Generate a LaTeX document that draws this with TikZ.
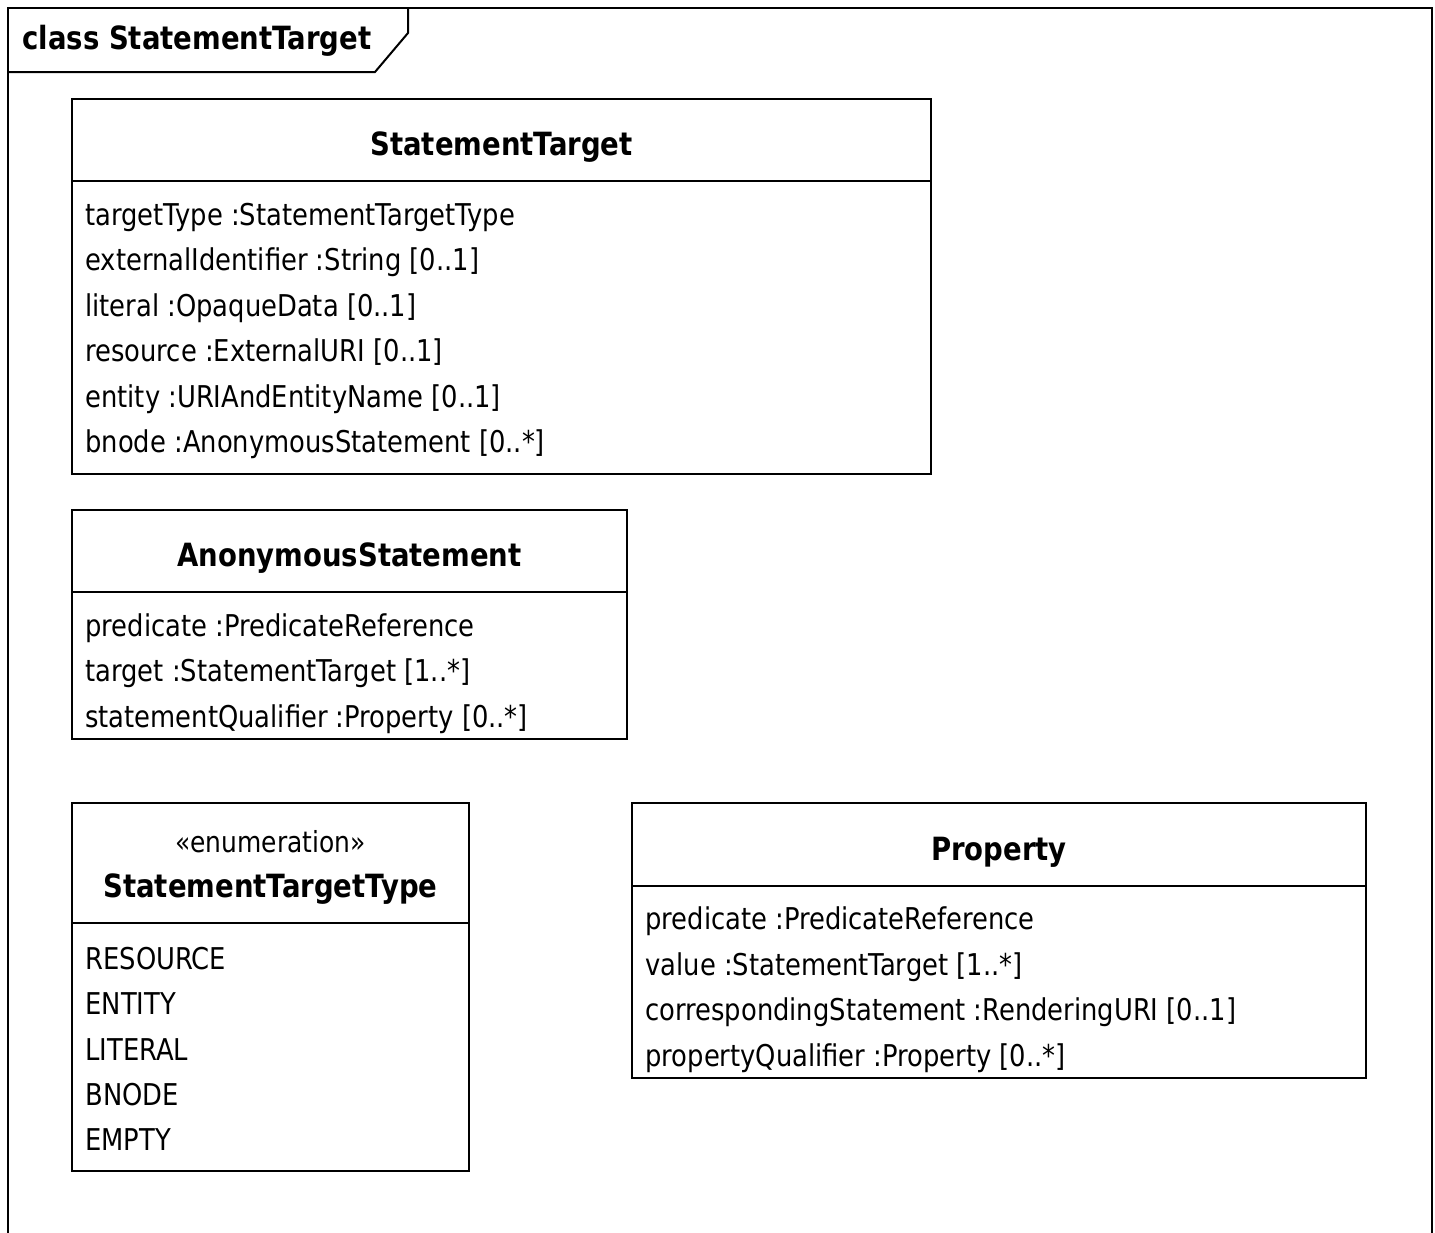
\documentclass[tikz,border=0pt]{standalone}
\usepackage{fontspec}
\setmainfont[FakeStretch=0.86]{DejaVu Sans}
\newfontfamily\headfont[FakeStretch=0.86]{DejaVu Sans}
\begin{document}
\begin{tikzpicture}[x=0.5pt,y=-0.5pt,
  box/.style={draw,line width=1pt},
  attr/.style={anchor=base west,inner sep=0pt,font=\fontsize{15}{18}\selectfont},
  ttl/.style={anchor=base,inner sep=0pt,font=\fontsize{16}{19}\headfont\bfseries},
  stereo/.style={anchor=base,inner sep=0pt,font=\fontsize{14.5}{17}\selectfont}]
\useasboundingbox (0,0) rectangle (1435,1232);
% diagram frame with its name tab
\draw[line width=1pt] (8,1240) -- (8,8) -- (1432,8) -- (1432,1240);
\draw[line width=1pt] (8,72) -- (375,72) -- (408,33) -- (408,8);
\node[anchor=base west,inner sep=0pt,font=\fontsize{16}{19}\headfont\bfseries] (frame) at (22,49) {class StatementTarget};

% StatementTarget
\draw[box] (72,99) rectangle (931,474);
\draw[line width=1pt] (72,181) -- (931,181);
\node[ttl] (stT) at (501.5,155) {StatementTarget};
\node[attr] (st1) at (85,225) {targetType :StatementTargetType};
\node[attr] (st2) at (85,270) {externalIdentifier :String [0..1]};
\node[attr] (st3) at (85,316) {literal :OpaqueData [0..1]};
\node[attr] (st4) at (85,361) {resource :ExternalURI [0..1]};
\node[attr] (st5) at (85,407) {entity :URIAndEntityName [0..1]};
\node[attr] (st6) at (85,452) {bnode :AnonymousStatement [0..*]};

% AnonymousStatement
\draw[box] (72,510) rectangle (627,739);
\draw[line width=1pt] (72,592) -- (627,592);
\node[ttl] (asT) at (349.5,566) {AnonymousStatement};
\node[attr] (as1) at (85,636) {predicate :PredicateReference};
\node[attr] (as2) at (85,681) {target :StatementTarget [1..*]};
\node[attr] (as3) at (85,727) {statementQualifier :Property [0..*]};

% StatementTargetType enumeration
\draw[box] (72,803) rectangle (469,1171);
\draw[line width=1pt] (72,923) -- (469,923);
\node[stereo] (ettS) at (270.5,852) {«enumeration»};
\node[ttl] (ettT) at (270.5,897) {StatementTargetType};
\node[attr] (e1) at (85,969) {RESOURCE};
\node[attr] (e2) at (85,1014) {ENTITY};
\node[attr] (e3) at (85,1060) {LITERAL};
\node[attr] (e4) at (85,1105) {BNODE};
\node[attr] (e5) at (85,1150) {EMPTY};

% Property
\draw[box] (632,803) rectangle (1366,1078);
\draw[line width=1pt] (632,886) -- (1366,886);
\node[ttl] (prT) at (999,860) {Property};
\node[attr] (p1) at (645,929) {predicate :PredicateReference};
\node[attr] (p2) at (645,975) {value :StatementTarget [1..*]};
\node[attr] (p3) at (645,1020) {correspondingStatement :RenderingURI [0..1]};
\node[attr] (p4) at (645,1066) {propertyQualifier :Property [0..*]};
\end{tikzpicture}
\end{document}
